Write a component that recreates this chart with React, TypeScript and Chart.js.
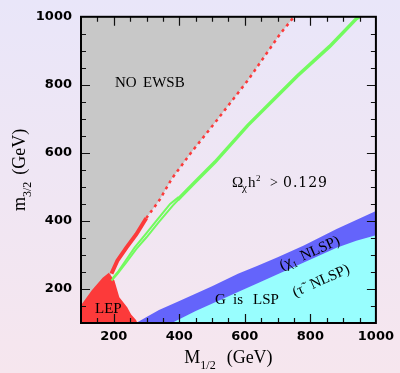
import React, { useEffect, useRef } from "react";
import { Chart, registerables } from "chart.js";

Chart.register(...registerables);

// x: M_1/2 (GeV), y: m_3/2 (GeV)
const noEwsbEdgeM12 = [100, 160, 193, 211, 238, 269, 299, 340, 377, 437, 509, 609, 708, 750];
const noEwsbEdgeM32 = [100, 200, 245, 283, 321, 361, 408, 462, 524, 602, 689, 813, 950, 1000];

const lepEdgeM12 = [100, 103, 133, 166, 185, 202, 217, 241, 253, 268, 272];
const lepEdgeM32 = [152, 152, 196, 233, 248, 225, 176, 146, 125, 109, 100];

const chiNlspTopM12 = [268, 300, 338, 400, 500, 579, 639, 700, 780, 880, 1000];
const chiNlspTopM32 = [100, 118, 138, 165, 208, 245, 268, 293, 328, 376, 429];

const stauNlspTopM12 = [377, 450, 579, 639, 700, 780, 880, 940, 1000];
const stauNlspTopM32 = [100, 135, 191, 217, 243, 278, 321, 342, 358];

const redLowM12 = [193, 211, 238, 269, 299];
const redLowM32 = [245, 283, 321, 361, 408];
const redHighM12 = [299, 340, 377, 437, 509, 609, 708, 750];
const redHighM32 = [408, 462, 524, 602, 689, 813, 950, 1000];

const greenAM12 = [193, 210, 240, 269, 300, 338, 380, 405];
const greenAM32 = [225, 243, 280, 318, 352, 397, 445, 470];
const greenBM12 = [197, 214, 236, 264, 296, 333, 372, 398];
const greenBM32 = [232, 252, 283, 322, 360, 404, 450, 470];
const greenM12 = [395, 449, 509, 609, 708, 760, 859, 940, 950];
const greenM32 = [462, 515, 573, 681, 776, 826, 913, 994, 1000];

const xTickLabels = [200, 400, 600, 800, 1000];
const yTickLabels = [200, 400, 600, 800, 1000];

const SERIF = '"Liberation Serif", "Times New Roman", serif';
const WIDE_SERIF = '"DejaVu Serif", serif';

const pts = (xs: number[], ys: number[]) => xs.map((x, i) => ({ x, y: ys[i] }));

type Part = { t: string; size: number; dy?: number; w?: number; f?: string };

function setFont(ctx: CanvasRenderingContext2D, p: Part) {
  ctx.font = `${p.size}px ${p.f || SERIF}`;
}

function partWidth(ctx: CanvasRenderingContext2D, p: Part) {
  setFont(ctx, p);
  return p.w != null ? p.w : ctx.measureText(p.t).width;
}

function drawPart(ctx: CanvasRenderingContext2D, p: Part, x: number, y: number) {
  setFont(ctx, p);
  const yy = y + (p.dy || 0);
  if (p.w == null) {
    ctx.fillText(p.t, x, yy);
    return x + ctx.measureText(p.t).width;
  }
  const chars = Array.from(p.t);
  const nat = chars.map((c) => ctx.measureText(c).width);
  const total = nat.reduce((a, b) => a + b, 0);
  const sp = chars.length > 1 ? (p.w - total) / (chars.length - 1) : 0;
  let cx = x;
  chars.forEach((c, i) => {
    ctx.fillText(c, cx, yy);
    cx += nat[i] + sp;
  });
  return x + p.w;
}

function drawParts(ctx: CanvasRenderingContext2D, parts: Part[], x: number, y: number, center = false) {
  const total = parts.reduce((s, p) => s + partWidth(ctx, p), 0);
  let cx = center ? x - total / 2 : x;
  for (const p of parts) cx = drawPart(ctx, p, cx, y);
}

const decor = {
  id: "decor",
  beforeDraw(chart: any) {
    const { ctx, width, height } = chart;
    const g = ctx.createLinearGradient(0, 0, 0, height);
    g.addColorStop(0, "#e9e6f9");
    g.addColorStop(1, "#f6e6ee");
    ctx.save();
    ctx.fillStyle = g;
    ctx.fillRect(0, 0, width, height);
    ctx.restore();
  },
  afterDatasetsDraw(chart: any) {
    const { ctx, chartArea: a } = chart;
    const xs = chart.scales.x;
    const ys = chart.scales.y;
    ctx.save();
    ctx.strokeStyle = "#111";
    ctx.lineWidth = 1.2;
    ctx.beginPath();
    xs.ticks.forEach((t: any) => {
      if (t.value <= xs.min || t.value >= xs.max) return;
      const px = Math.round(xs.getPixelForValue(t.value)) + 0.5;
      const len = xTickLabels.includes(t.value) ? 9 : 5;
      ctx.moveTo(px, a.bottom);
      ctx.lineTo(px, a.bottom - len);
      ctx.moveTo(px, a.top);
      ctx.lineTo(px, a.top + len);
    });
    ys.ticks.forEach((t: any) => {
      if (t.value <= ys.min || t.value >= ys.max) return;
      const py = Math.round(ys.getPixelForValue(t.value)) + 0.5;
      const len = yTickLabels.includes(t.value) ? 9 : 5;
      ctx.moveTo(a.left, py);
      ctx.lineTo(a.left + len, py);
      ctx.moveTo(a.right, py);
      ctx.lineTo(a.right - len, py);
    });
    ctx.stroke();
    ctx.lineWidth = 2;
    ctx.strokeStyle = "#000";
    ctx.strokeRect(a.left, a.top, a.right - a.left, a.bottom - a.top);

    // annotations
    ctx.fillStyle = "#000";
    ctx.textBaseline = "alphabetic";
    ctx.textAlign = "left";
    drawPart(ctx, { t: "NO", size: 15 }, 115, 87);
    drawPart(ctx, { t: "EWSB", size: 15 }, 143, 87);

    drawPart(ctx, { t: "Ω", size: 15 }, 232, 187);
    drawPart(ctx, { t: "χ", size: 11, dy: 4 }, 242, 187);
    drawPart(ctx, { t: "h", size: 15 }, 248, 187);
    drawPart(ctx, { t: "2", size: 9, dy: -6 }, 256, 187);
    drawPart(ctx, { t: ">", size: 14 }, 270, 187);
    drawPart(ctx, { t: "0.129", size: 14, f: WIDE_SERIF, w: 44 }, 283, 187);

    drawPart(ctx, { t: "LEP", size: 15 }, 95, 313);

    drawPart(ctx, { t: "G", size: 15 }, 215, 304);
    drawPart(ctx, { t: "is", size: 15 }, 233, 304);
    drawPart(ctx, { t: "LSP", size: 15 }, 253, 304);

    const ang = (-24 * Math.PI) / 180;
    ctx.save();
    ctx.translate(282, 270);
    ctx.rotate(ang);
    drawParts(ctx, [
      { t: "(", size: 15 },
      { t: "χ", size: 16 },
      { t: "1", size: 9, dy: 3 },
      { t: "", size: 15, w: 6 },
      { t: "NLSP)", size: 15 },
    ], 0, 0);
    ctx.restore();

    ctx.save();
    ctx.translate(295, 297);
    ctx.rotate(ang);
    drawParts(ctx, [
      { t: "(τ̃", size: 15 },
      { t: "", size: 15, w: 8 },
      { t: "NLSP)", size: 15 },
    ], 0, 0);
    ctx.restore();

    // axis titles
    drawParts(ctx, [
      { t: "M", size: 18 },
      { t: "1/2", size: 12, dy: 6 },
      { t: "", size: 18, w: 11 },
      { t: "(GeV)", size: 18 },
    ], (a.left + a.right) / 2, 363, true);

    ctx.save();
    ctx.translate(25, (a.top + a.bottom) / 2);
    ctx.rotate(-Math.PI / 2);
    drawParts(ctx, [
      { t: "m", size: 18 },
      { t: "3/2", size: 12, dy: 6 },
      { t: "", size: 18, w: 7 },
      { t: "(GeV)", size: 18 },
    ], 0, 0, true);
    ctx.restore();

    ctx.restore();
  },
};

export default function App() {
  const ref = useRef<HTMLCanvasElement | null>(null);
  useEffect(() => {
    if (!ref.current) return;
    const base = { pointRadius: 0, tension: 0, borderColor: "transparent", borderWidth: 0 };
    const tickFont = { family: '"DejaVu Sans", sans-serif', weight: "bold" as const, size: 13 };
    const chart = new Chart(ref.current, {
      type: "line",
      data: {
        datasets: [
          { ...base, label: "NO EWSB", data: pts(noEwsbEdgeM12, noEwsbEdgeM32), fill: "end", backgroundColor: "#c8c8c8", order: 6 },
          { ...base, label: "chi NLSP", data: pts(chiNlspTopM12, chiNlspTopM32), fill: "start", backgroundColor: "#6464fb", order: 5 },
          { ...base, label: "stau NLSP", data: pts(stauNlspTopM12, stauNlspTopM32), fill: "start", backgroundColor: "#98fefe", order: 4 },
          { ...base, label: "LEP", data: pts(lepEdgeM12, lepEdgeM32), fill: "start", backgroundColor: "#fc3a3a", order: 3 },
          { ...base, label: "red low", data: pts(redLowM12, redLowM32), fill: false, borderColor: "#fc3a3a", borderWidth: 4, order: 2 },
          { ...base, label: "red high", data: pts(redHighM12, redHighM32), fill: false, borderColor: "#fc3a3a", borderWidth: 2.5, borderDash: [3, 4], order: 2 },
          { ...base, label: "green A", data: pts(greenAM12, greenAM32), fill: false, borderColor: "#72fb5e", borderWidth: 2, order: 1 },
          { ...base, label: "green B", data: pts(greenBM12, greenBM32), fill: false, borderColor: "#72fb5e", borderWidth: 2, order: 1 },
          { ...base, label: "green", data: pts(greenM12, greenM32), fill: false, borderColor: "#72fb5e", borderWidth: 3.5, order: 1 },
        ],
      },
      options: {
        animation: false,
        responsive: false,
        devicePixelRatio: 1,
        events: [],
        layout: { padding: { left: 0, top: 13, right: 20, bottom: 0 } },
        plugins: { legend: { display: false }, tooltip: { enabled: false } },
        scales: {
          x: {
            type: "linear",
            min: 100,
            max: 1000,
            grid: { display: false, drawTicks: false },
            border: { display: false },
            ticks: {
              stepSize: 50,
              autoSkip: false,
              maxRotation: 0,
              padding: 6,
              color: "#000",
              font: tickFont,
              callback: (v: any) => (xTickLabels.includes(Number(v)) ? String(v) : ""),
            },
            afterFit: (s: any) => {
              s.height = 50;
            },
          },
          y: {
            type: "linear",
            min: 100,
            max: 1000,
            grid: { display: false, drawTicks: false },
            border: { display: false },
            ticks: {
              stepSize: 50,
              autoSkip: false,
              padding: 9,
              color: "#000",
              font: tickFont,
              callback: (v: any) => (yTickLabels.includes(Number(v)) ? String(v) : ""),
            },
            afterFit: (s: any) => {
              s.width = 81;
            },
          },
        },
      },
      plugins: [decor],
    });
    return () => chart.destroy();
  }, []);
  return (
    <canvas
      ref={ref}
      width={400}
      height={373}
      style={{ position: "fixed", left: 0, top: 0, width: 400, height: 373, display: "block" }}
    />
  );
}
